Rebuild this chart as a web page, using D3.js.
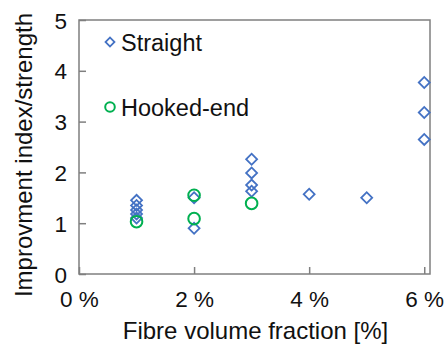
<!DOCTYPE html>
<html>
<head>
<meta charset="utf-8">
<script src="https://cdn.jsdelivr.net/npm/d3@7"></script>
<style>
  html, body { margin: 0; padding: 0; background: #fff; }
  svg { display: block; }
  text { font-family: "Liberation Sans", Arial, sans-serif; fill: #111; }
</style>
</head>
<body>
<svg id="chart" width="445" height="348"></svg>
<script>
// Fibre volume fraction (%) and improvement index per fibre type
const straightX = [1, 1, 1, 1, 1, 2, 2, 3, 3, 3, 3, 4, 5, 6, 6, 6];
const straightY = [1.45, 1.35, 1.26, 1.18, 1.10, 1.50, 0.90, 2.26, 1.99, 1.75, 1.63, 1.57, 1.50, 3.77, 3.18, 2.65];
const hookedX = [1, 2, 2, 3];
const hookedY = [1.03, 1.55, 1.09, 1.39];

const xTicks = [0, 2, 4, 6];
const yTicks = [0, 1, 2, 3, 4, 5];
const seriesNames = ["Straight", "Hooked-end"];
const xTitle = "Fibre volume fraction [%]";
const yTitle = "Improvment index/strength";

const blue = "#4472C4";
const green = "#00B050";
const frame = "#7f7f7f";

const svg = d3.select("#chart");
const m = { left: 79, right: 15, top: 20, bottom: 74 };
const W = 445, H = 348;

const x = d3.scaleLinear().domain([0, 6.1]).range([m.left, W - m.right]);
const y = d3.scaleLinear().domain([0, 5]).range([H - m.bottom, m.top]);

// plot frame
svg.append("rect")
  .attr("x", x(0)).attr("y", y(5))
  .attr("width", x(6.1) - x(0)).attr("height", y(0) - y(5))
  .attr("fill", "none").attr("stroke", frame).attr("stroke-width", 1.5);

// axes with inward ticks
const xAxis = svg.append("g").attr("transform", `translate(0,${y(0)})`)
  .call(d3.axisBottom(x).tickValues(xTicks).tickSizeInner(-7).tickSizeOuter(0)
    .tickPadding(17).tickFormat(d => d + " %"));
const yAxis = svg.append("g").attr("transform", `translate(${x(0)},0)`)
  .call(d3.axisLeft(y).tickValues(yTicks).tickSizeInner(-7).tickSizeOuter(0)
    .tickPadding(12).tickFormat(d3.format("d")));

[xAxis, yAxis].forEach(g => {
  g.select(".domain").remove();
  g.selectAll(".tick line").attr("stroke", frame).attr("stroke-width", 1.5);
  g.selectAll(".tick text").attr("font-size", 22.5).attr("fill", "#111")
    .attr("font-family", "Liberation Sans, Arial, sans-serif");
});
xAxis.selectAll(".tick text").attr("dy", "0.71em");
yAxis.selectAll(".tick text").attr("dy", "0.36em");

// axis titles
svg.append("text")
  .attr("x", (x(0) + x(6.1)) / 2 + 1).attr("y", 339)
  .attr("text-anchor", "middle").attr("font-size", 24)
  .text(xTitle);
svg.append("text")
  .attr("transform", `translate(32,${(y(0) + y(5)) / 2 + 8}) rotate(-90)`)
  .attr("text-anchor", "middle").attr("font-size", 24)
  .text(yTitle);

// markers
const diamond = d3.symbol().type(d3.symbolSquare).size(60);
const plot = svg.append("g");

plot.selectAll("path.straight")
  .data(straightX.map((v, i) => [v, straightY[i]]))
  .join("path").attr("class", "straight")
  .attr("d", diamond)
  .attr("transform", d => `translate(${x(d[0])},${y(d[1])}) rotate(45)`)
  .attr("fill", "none").attr("stroke", blue).attr("stroke-width", 1.8);

plot.selectAll("circle.hooked")
  .data(hookedX.map((v, i) => [v, hookedY[i]]))
  .join("circle").attr("class", "hooked")
  .attr("cx", d => x(d[0])).attr("cy", d => y(d[1]))
  .attr("r", 5.8)
  .attr("fill", "none").attr("stroke", green).attr("stroke-width", 2);

// legend
const legend = svg.append("g");
const legendRows = [
  { name: seriesNames[0], ty: 42, kind: "diamond", color: blue },
  { name: seriesNames[1], ty: 107, kind: "circle", color: green }
];
legendRows.forEach(r => {
  if (r.kind === "diamond") {
    legend.append("path").attr("d", d3.symbol().type(d3.symbolSquare).size(40)())
      .attr("transform", `translate(110,${r.ty}) rotate(45)`)
      .attr("fill", "none").attr("stroke", r.color).attr("stroke-width", 1.8);
  } else {
    legend.append("circle").attr("cx", 110).attr("cy", r.ty).attr("r", 4.8)
      .attr("fill", "none").attr("stroke", r.color).attr("stroke-width", 2);
  }
  legend.append("text").attr("x", 121).attr("y", r.ty + 9)
    .attr("font-size", 23.5).text(r.name);
});
</script>
</body>
</html>
